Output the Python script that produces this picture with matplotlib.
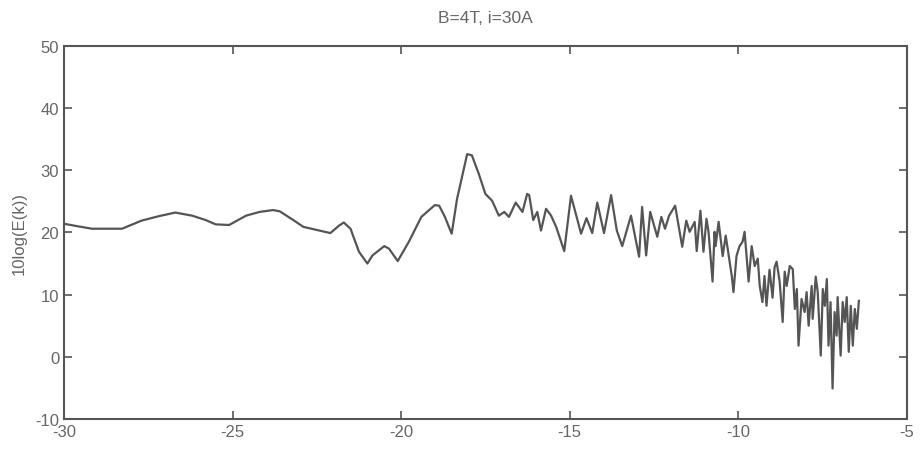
import matplotlib
matplotlib.use("Agg")
import matplotlib.pyplot as plt

# values
k = [-30.0, -29.6, -29.17, -28.7, -28.28, -27.7, -27.2, -26.7, -26.2, -25.8,
     -25.5, -25.1, -24.6, -24.2, -23.8, -23.6, -23.2, -22.9, -22.5, -22.1,
     -21.84, -21.7, -21.5, -21.25, -21.0, -20.85, -20.5, -20.36, -20.1, -19.76,
     -19.4, -19.0, -18.87, -18.7, -18.5, -18.34, -18.04, -17.9, -17.7, -17.5,
     -17.3, -17.1, -16.94, -16.8, -16.6, -16.4, -16.26, -16.2, -16.08, -15.96,
     -15.85, -15.7, -15.55, -15.4, -15.16, -14.96, -14.66, -14.5, -14.33, -14.18,
     -13.98, -13.77, -13.6, -13.44, -13.18, -12.94, -12.85, -12.73, -12.61, -12.4,
     -12.28, -12.17, -12.05, -11.87, -11.66, -11.54, -11.44, -11.29, -11.23, -11.12,
     -11.03, -10.94, -10.88, -10.76, -10.70, -10.67, -10.58, -10.46, -10.37, -10.28,
     -10.19, -10.14, -10.05, -9.96, -9.87, -9.81, -9.75, -9.69, -9.60, -9.51,
     -9.42, -9.36, -9.28, -9.22, -9.16, -9.07, -8.98, -8.92, -8.86, -8.77,
     -8.68, -8.62, -8.56, -8.47, -8.38, -8.32, -8.26, -8.21, -8.12, -8.03,
     -7.97, -7.91, -7.82, -7.79, -7.70, -7.64, -7.55, -7.49, -7.43, -7.37,
     -7.32, -7.26, -7.20, -7.14, -7.08, -7.05, -6.96, -6.90, -6.84, -6.78,
     -6.72, -6.66, -6.60, -6.54, -6.48, -6.42]
E_db = [21.4, 21.0, 20.6, 20.6, 20.6, 21.9, 22.6, 23.2, 22.7, 22.0,
        21.3, 21.2, 22.7, 23.3, 23.6, 23.4, 22.0, 20.9, 20.4, 19.9,
        21.1, 21.6, 20.6, 16.9, 15.0, 16.3, 17.8, 17.4, 15.4, 18.6,
        22.5, 24.4, 24.3, 22.5, 19.8, 25.4, 32.6, 32.4, 29.5, 26.2,
        25.1, 22.7, 23.3, 22.5, 24.8, 23.3, 26.2, 26.0, 22.0, 23.3,
        20.3, 23.8, 22.7, 20.9, 17.0, 25.9, 19.8, 22.3, 19.9, 24.8,
        19.9, 26.0, 20.3, 17.8, 22.7, 16.1, 24.1, 16.3, 23.3, 19.3,
        22.5, 20.6, 22.7, 24.3, 17.7, 21.9, 20.1, 21.7, 17.0, 23.5,
        16.9, 22.2, 20.1, 12.1, 20.1, 17.8, 21.7, 16.2, 19.5, 16.2,
        13.0, 10.4, 16.2, 17.8, 18.5, 20.1, 16.2, 12.1, 17.8, 14.6,
        15.8, 11.4, 8.8, 13.0, 8.2, 14.0, 9.5, 14.4, 15.3, 12.1,
        5.6, 13.7, 11.4, 14.6, 14.1, 7.7, 10.9, 1.8, 9.3, 7.2,
        10.4, 5.0, 11.4, 6.1, 12.9, 10.4, 0.2, 10.9, 8.2, 12.5,
        1.8, 8.8, -5.1, 7.2, 3.4, 9.6, 0.2, 8.8, 5.6, 9.6,
        0.8, 8.2, 1.8, 7.7, 4.5, 9.0]

xticks = [-30, -25, -20, -15, -10, -5]
yticks = [-10, 0, 10, 20, 30, 40, 50]

grey = '#555555'
txt = '#666666'
plt.rcParams['font.family'] = ['Liberation Sans Narrow', 'Liberation Sans', 'DejaVu Sans']
plt.rcParams['axes.unicode_minus'] = False

fig = plt.figure(figsize=(9.21, 4.6), dpi=100)
ax = fig.add_axes([0.0695, 0.087, 0.915, 0.811])
ax.plot(k, E_db, color=grey, linewidth=1.6)

ax.set_xlim(-30, -5)
ax.set_ylim(-10, 50)
ax.set_xticks(xticks)
ax.set_yticks(yticks)
ax.tick_params(direction='in', length=6, width=1.2, colors=grey,
               labelcolor=txt, labelsize=12, top=True, right=True)
for s in ax.spines.values():
    s.set_color(grey)
    s.set_linewidth(1.5)

ax.set_title('B=4T, i=30A', color=txt, fontsize=12.5, pad=17)
ax.set_ylabel('10log(E(k))', color=txt, fontsize=12, labelpad=6)

fig.savefig('out.png', dpi=100)
